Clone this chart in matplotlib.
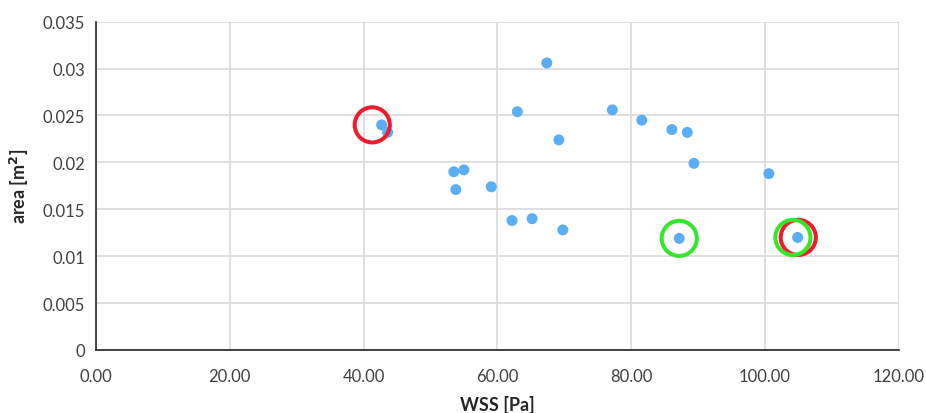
import matplotlib
matplotlib.use("Agg")
import matplotlib.pyplot as plt
from matplotlib.ticker import FuncFormatter

plt.rcParams["font.family"] = ["Lato", "DejaVu Sans"]

# WSS [Pa] vs area [m2]
wss = [42.7, 43.6, 63.0, 69.2, 53.5, 55.0, 53.8, 59.1, 62.2, 65.2,
       69.8, 67.4, 77.2, 81.6, 86.1, 88.4, 89.4, 100.6, 87.2, 104.9]
area = [0.0240, 0.0232, 0.0254, 0.0224, 0.0190, 0.0192, 0.0171, 0.0174, 0.0138, 0.0140,
        0.0128, 0.0306, 0.0256, 0.0245, 0.0235, 0.0232, 0.0199, 0.0188, 0.0119, 0.0120]

# highlighted points
red_x = [41.3, 105.0]
red_y = [0.0240, 0.0120]
green_x = [87.2, 104.2]
green_y = [0.0119, 0.0120]

fig = plt.figure(figsize=(9.26, 4.14), dpi=100)
ax = fig.add_axes([0.1037, 0.1522, 0.8667, 0.793])

ax.scatter(wss, area, s=62, color="#59AEF5", edgecolors="none", zorder=3)
ax.scatter(red_x, red_y, s=640, facecolors="none", edgecolors="#EE1C2E",
           linewidths=2.9, zorder=4)
ax.scatter(green_x, green_y, s=640, facecolors="none", edgecolors="#35E62A",
           linewidths=2.9, zorder=5)

ax.set_xlim(0, 120)
ax.set_ylim(0, 0.035)
ax.set_xticks(range(0, 121, 20))
ax.set_yticks([i * 0.005 for i in range(8)])
ax.xaxis.set_major_formatter(FuncFormatter(lambda v, p: "%.2f" % v))
ax.yaxis.set_major_formatter(FuncFormatter(lambda v, p: ("%.3f" % v).rstrip("0").rstrip(".") if v else "0"))
ax.tick_params(length=0, labelsize=12, colors="#404040", pad=8)
ax.tick_params(axis="x", pad=13)

ax.grid(True, color="#D9D9D9", linewidth=1.2, zorder=0)
ax.set_axisbelow(True)
for s in ["top", "right"]:
    ax.spines[s].set_visible(False)
for s in ["left", "bottom"]:
    ax.spines[s].set_color("#262626")
    ax.spines[s].set_linewidth(1.2)

ax.set_xlabel("WSS [Pa]", fontsize=13, fontweight="bold", color="#262626", labelpad=8)
ax.set_ylabel("area [m$\\mathbf{^2}$]", fontsize=13, fontweight="bold", color="#262626", labelpad=8)

fig.savefig("out.png", dpi=100, facecolor="white")
